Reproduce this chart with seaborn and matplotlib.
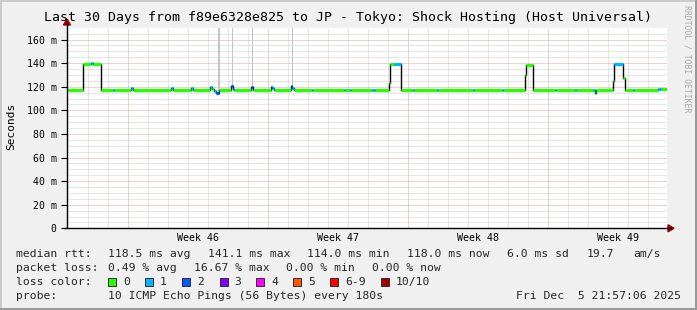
import numpy as np
import pandas as pd
import matplotlib
matplotlib.use("Agg")
import matplotlib.pyplot as plt
import seaborn as sns
from matplotlib.patches import Rectangle, Polygon
from matplotlib.lines import Line2D

# ---------------- data (days since start of 30-day window, ms, lost pings) ----------------
sample_t = [0.00, 0.82, 1.22, 1.30, 1.70, 2.28, 2.36, 3.20, 3.30, 5.20, 5.30, 6.20, 6.30,
            7.15, 7.25, 7.35, 7.45, 7.62, 8.20, 8.28, 8.35, 9.20, 9.30, 10.18, 10.25, 10.33,
            11.18, 11.25, 11.33, 12.25, 12.30, 13.85, 13.90, 14.15, 14.20, 15.25, 15.40,
            16.12, 16.17, 16.35, 16.72, 17.30, 17.36, 18.50, 18.55, 20.30, 20.35, 21.75, 21.80,
            22.90, 22.96, 23.28, 24.40, 24.45, 25.40, 25.45, 26.30, 26.38, 26.46,
            27.28, 27.33, 27.82, 27.88, 28.30, 28.35, 29.55, 29.70]
sample_rtt = [117.0, 139.5, 140.5, 139.5, 117.0, 117.5, 117.0, 119.0, 117.0, 119.0, 117.0, 119.0, 117.0,
              119.5, 118.0, 116.0, 114.5, 117.0, 120.5, 118.0, 117.0, 120.0, 117.0, 120.0, 118.5, 117.0,
              121.0, 119.0, 117.0, 117.5, 117.0, 117.5, 117.0, 117.5, 117.0, 117.0, 117.0,
              123.0, 139.5, 139.5, 117.0, 117.0, 117.0, 117.0, 117.0, 117.0, 117.0, 117.0, 117.0,
              130.0, 138.5, 117.0, 117.0, 117.0, 117.0, 117.0, 117.5, 114.5, 117.0,
              125.0, 139.5, 127.0, 117.0, 117.0, 117.0, 118.3, 118.3]
sample_loss = [0, 0, 1, 0, 0, 1, 0, 1, 0, 1, 0, 1, 0,
               1, 0, 1, 2, 0, 2, 1, 0, 2, 0, 2, 1, 0,
               2, 1, 0, 1, 0, 1, 0, 1, 0, 1, 0,
               0, 0, 1, 0, 1, 0, 1, 0, 1, 0, 1, 0,
               0, 0, 0, 1, 0, 1, 0, 1, 0, 0,
               0, 1, 0, 0, 1, 0, 1, 0]
window_end = 30.0

spike_t = [7.60, 8.27, 9.27, 11.27]
spike_base = [115.0, 119.0, 119.0, 120.0]
spike_top = [175.0, 175.0, 175.0, 175.0]
spike_w = [0.09, 0.05, 0.05, 0.05]

loss_labels = ["0", "1", "2", "3", "4", "5", "6-9", "10/10"]
loss_colors = ["#26ff00", "#00b8ff", "#0059ff", "#7e00ff", "#ff00ff", "#ff5500", "#ff0000", "#a10000"]

y_ticks = [0, 20, 40, 60, 80, 100, 120, 140, 160]
y_tick_labels = ["0", "20 m", "40 m", "60 m", "80 m", "100 m", "120 m", "140 m", "160 m"]
week_labels = ["Week 46", "Week 47", "Week 48", "Week 49"]
week_label_pos = [6.55, 13.55, 20.55, 27.55]
week_start = [3.05, 10.05, 17.05, 24.05]

title = "Last 30 Days from f89e6328e825 to JP - Tokyo: Shock Hosting (Host Universal)"
stats_rtt = ["118.5 ms avg", "141.1 ms max", "114.0 ms min", "118.0 ms now", "6.0 ms sd", "19.7", "am/s"]
stats_loss = ["0.49 % avg", "16.67 % max", "0.00 % min", "0.00 % now"]
probe_text = "10 ICMP Echo Pings (56 Bytes) every 180s"
date_text = "Fri Dec  5 21:57:06 2025"

# ---------------- setup ----------------
sns.set_style("white")
plt.rcParams['font.family'] = ['DejaVu Sans Mono']

W, H = 697, 310
BG = "#f0f0f0"
fig = plt.figure(figsize=(W / 100, H / 100), dpi=100, facecolor=BG)

def fx(px):
    return px / W

def fy(py):
    return 1 - py / H

PL, PR, PT, PB = 67, 667, 27.7, 228.3
ax = fig.add_axes([fx(PL), fy(PB), (PR - PL) / W, (PB - PT) / H])
ax.set_facecolor("white")
ax.set_xlim(0, 30)
ax.set_ylim(0, 170)
for s in ax.spines.values():
    s.set_visible(False)

# grid
minor_col = "#cfcfcf"
major_col = "#eaa0a0"
dot = (0, (1, 1))
for yv in np.arange(5, 170, 5):
    if yv % 20 == 0:
        continue
    ax.axhline(yv, color=minor_col, lw=0.72, ls=dot, zorder=0)
for k in range(1, 30):
    xv = 0.05 + k
    if any(abs(xv - w) < 1e-6 for w in week_start):
        continue
    ax.axvline(xv, color=minor_col, lw=0.72, ls=dot, zorder=0)
for yv in y_ticks[1:]:
    ax.axhline(yv, color=major_col, lw=0.72, ls=dot, zorder=0.5)
for xv in week_start:
    ax.axvline(xv, color=major_col, lw=0.72, ls=dot, zorder=0.5)

# smoke spikes
ax.bar(spike_t, [t - b for t, b in zip(spike_top, spike_base)], bottom=spike_base,
       width=spike_w, color="#c4c4c4", align="center", zorder=1, linewidth=0)

# median line (black, stepped)
ends = sample_t[1:] + [window_end]
lx, ly = [], []
for t0, t1, v in zip(sample_t, ends, sample_rtt):
    lx += [t0, t1]
    ly += [v, v]
line_df = pd.DataFrame({"x": lx, "y": ly})
sns.lineplot(data=line_df, x="x", y="y", sort=False, estimator=None, color="#000000",
             lw=1.0, ax=ax, zorder=2)

# colored segments per loss bin
rows = []
for i, (t0, t1, v, l) in enumerate(zip(sample_t, ends, sample_rtt, sample_loss)):
    rows.append({"x": t0, "y": v, "seg": i, "loss": loss_labels[l]})
    rows.append({"x": t1, "y": v, "seg": i, "loss": loss_labels[l]})
seg_df = pd.DataFrame(rows)
palette = dict(zip(loss_labels, loss_colors))
sns.lineplot(data=seg_df, x="x", y="y", hue="loss", units="seg", estimator=None, sort=False,
             palette=palette, lw=2.3, legend=False, ax=ax, zorder=3,
             solid_capstyle="butt")

# ticks
ax.set_yticks(y_ticks)
ax.set_yticklabels(y_tick_labels)
ax.set_xticks(week_label_pos)
ax.set_xticklabels(week_labels)
ax.tick_params(axis="y", length=4, width=0.8, pad=3.5, labelsize=7.1, colors="black", left=True, direction="out")
ax.tick_params(axis="x", length=0, pad=3.5, labelsize=7.2, colors="black")
ax.set_xlabel("")
ax.set_ylabel("")

# axes lines and arrows
fig.add_artist(Line2D([fx(PL), fx(PL)], [fy(PB), fy(23)], transform=fig.transFigure, color="black", lw=1.0))
fig.add_artist(Line2D([fx(PL - 3), fx(671)], [fy(PB), fy(PB)], transform=fig.transFigure, color="black", lw=1.0))
arrow_col = "#9b0000"
fig.add_artist(Polygon([[fx(PL - 3.5), fy(25)], [fx(PL + 3.5), fy(25)], [fx(PL), fy(19)]],
                       closed=True, transform=fig.transFigure, color=arrow_col))
fig.add_artist(Polygon([[fx(668), fy(PB - 3.5)], [fx(668), fy(PB + 3.5)], [fx(674), fy(PB)]],
                       closed=True, transform=fig.transFigure, color=arrow_col))

# title, labels
fig.text(fx(347.5), fy(18), title, ha="center", va="center", fontsize=9.5, color="black")
fig.text(fx(11), fy(126), "Seconds", rotation=90, ha="center", va="center", fontsize=8.0, color="black")
fig.text(fx(687), fy(5), "RRDTOOL / TOBI OETIKER", rotation=270, ha="center", va="top",
         fontsize=5.9, color="#a8a8a8")

# legend block
fs = 8.2
y1, y2, y3, y4 = 254, 268, 282, 296
fig.text(fx(16.4), fy(y1), "median rtt:", ha="left", va="center", fontsize=fs)
for xp, s in zip([108, 207.6, 306.7, 406.7, 506.7, 587, 633], stats_rtt):
    fig.text(fx(xp), fy(y1), s, ha="left", va="center", fontsize=fs)
fig.text(fx(16.4), fy(y2), "packet loss:", ha="left", va="center", fontsize=fs)
for xp, s in zip([108, 194, 286.5, 372.4], stats_loss):
    fig.text(fx(xp), fy(y2), s, ha="left", va="center", fontsize=fs)
fig.text(fx(16.4), fy(y3), "loss color:", ha="left", va="center", fontsize=fs)
sq_x = [108, 145, 182, 219.5, 256.4, 293, 330, 381]
lab_x = [123, 160, 197, 234, 271, 308, 345, 396]
for sx, lxp, lab, col in zip(sq_x, lab_x, loss_labels, loss_colors):
    fig.add_artist(Rectangle((fx(sx), fy(y3 + 4)), 8 / W, 8 / H, transform=fig.transFigure,
                             facecolor=col, edgecolor="#303030", lw=0.7))
    fig.text(fx(lxp), fy(y3), lab, ha="left", va="center", fontsize=fs)
fig.text(fx(16.4), fy(y4), "probe:", ha="left", va="center", fontsize=fs)
fig.text(fx(108), fy(y4), probe_text, ha="left", va="center", fontsize=fs)
fig.text(fx(680.5), fy(y4), date_text, ha="right", va="center", fontsize=fs)

# 3D frame
fig.add_artist(Rectangle((0, 0), 1, 2 / H, transform=fig.transFigure, color="#999999", lw=0))
fig.add_artist(Rectangle((1 - 2 / W, 0), 2 / W, 1, transform=fig.transFigure, color="#999999", lw=0))
fig.add_artist(Rectangle((0, 1 - 2 / H), 1 - 2 / W, 2 / H, transform=fig.transFigure, color="#cbcbcb", lw=0))
fig.add_artist(Rectangle((0, 2 / H), 2 / W, 1 - 4 / H, transform=fig.transFigure, color="#cbcbcb", lw=0))

fig.savefig("out.png", dpi=100, facecolor=BG)
